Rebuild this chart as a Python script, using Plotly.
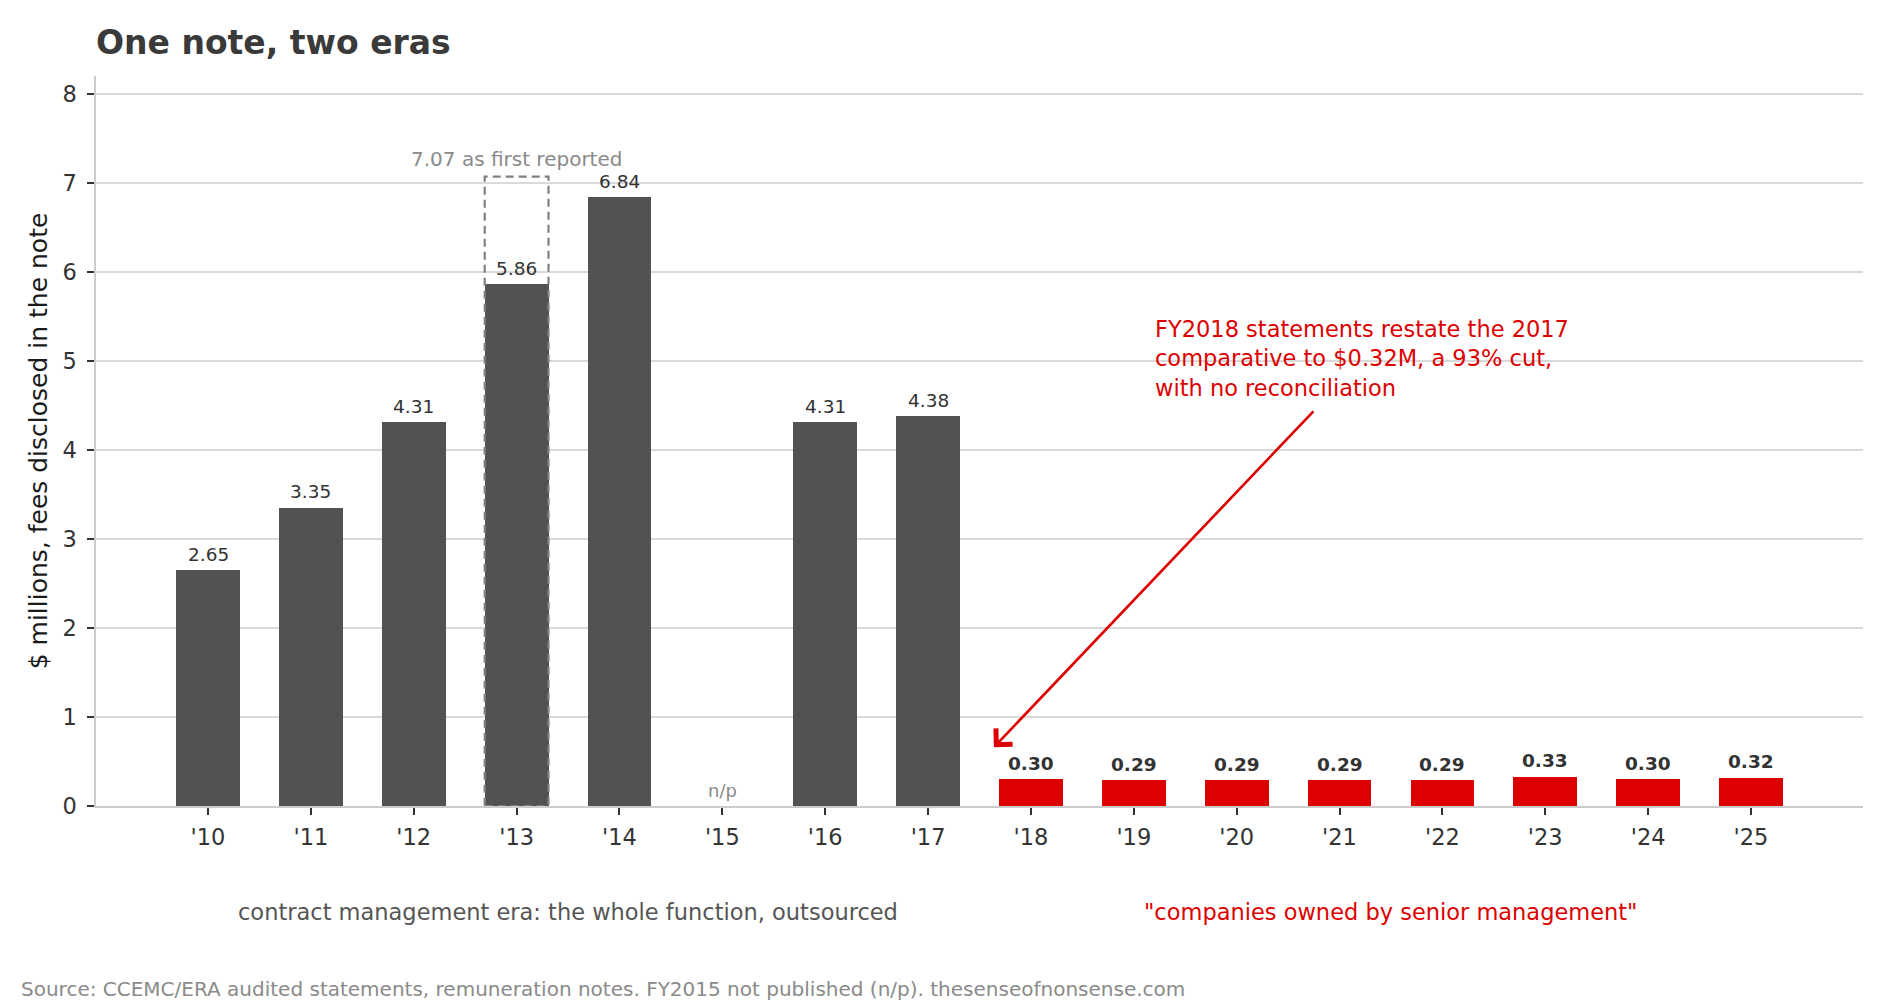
import plotly.graph_objects as go

# ---- data ----
years = ["'10", "'11", "'12", "'13", "'14", "'15", "'16", "'17",
         "'18", "'19", "'20", "'21", "'22", "'23", "'24", "'25"]
fees = [2.65, 3.35, 4.31, 5.86, 6.84, None, 4.31, 4.38,
        0.30, 0.29, 0.29, 0.29, 0.29, 0.33, 0.30, 0.32]
era = ["contract"] * 8 + ["owned"] * 8
restated_year = "'13"
first_reported = 7.07
missing_label = "n/p"

DARK = "#525252"
RED = "#dd0000"
FONT = "DejaVu Sans"
BAR_W = 0.62

colors = [DARK if e == "contract" else RED for e in era]

fig = go.Figure()
fig.add_trace(go.Bar(
    x=years, y=fees, width=BAR_W, marker=dict(color=colors, line=dict(width=0)),
    hoverinfo="skip", showlegend=False,
))

annotations = []
for i, (yr, v, e) in enumerate(zip(years, fees, era)):
    if v is None:
        annotations.append(dict(x=yr, y=0, xref="x", yref="y", text=missing_label,
                                showarrow=False, yanchor="middle", yshift=16,
                                font=dict(family=FONT, size=18, color="#8a8a8a")))
        continue
    annotations.append(dict(
        x=yr, y=v, xref="x", yref="y", text=f"{v:.2f}", showarrow=False,
        yanchor="middle", yshift=16,
        font=dict(family=FONT, size=18.5, color="#333333",
                  weight="bold" if e == "owned" else "normal")))

# restated bar: dashed outline of first-reported value
ri = years.index(restated_year)
fig.add_shape(type="rect", xref="x", yref="y",
              x0=ri - BAR_W / 2, x1=ri + BAR_W / 2, y0=0, y1=first_reported,
              line=dict(color="#808080", width=2.2, dash="8px,5px"),
              fillcolor="rgba(0,0,0,0)", layer="above")
annotations.append(dict(x=restated_year, y=first_reported, xref="x", yref="y",
                        text=f"{first_reported:.2f} as first reported", showarrow=False,
                        yanchor="middle", yshift=18,
                        font=dict(family=FONT, size=20, color="#8a8a8a")))

# red callout
annotations.append(dict(
    x=9.19, y=5.03, xref="x", yref="y", xanchor="left", yanchor="middle", align="left",
    text="FY2018 statements restate the 2017<br>comparative to $0.32M, a 93% cut,<br>with no reconciliation",
    showarrow=False, font=dict(family=FONT, size=22.5, color=RED)))
annotations.append(dict(
    x=7.64, y=0.66, ax=10.76, ay=4.45, xref="x", yref="y", axref="x", ayref="y",
    text="", showarrow=True, arrowhead=4, arrowsize=1.7, arrowwidth=2.6, arrowcolor=RED))

# era labels
annotations.append(dict(x=3.5, y=-0.145, xref="x", yref="paper",
                        text="contract management era: the whole function, outsourced",
                        showarrow=False, yanchor="middle",
                        font=dict(family=FONT, size=22.5, color="#555555")))
annotations.append(dict(x=11.5, y=-0.145, xref="x", yref="paper",
                        text="\"companies owned by senior management\"",
                        showarrow=False, yanchor="middle",
                        font=dict(family=FONT, size=22.5, color=RED)))

# source
annotations.append(dict(x=-0.0436, y=-0.2505, xref="paper", yref="paper",
                        text="Source: CCEMC/ERA audited statements, remuneration notes. "
                             "FY2015 not published (n/p). thesenseofnonsense.com",
                        showarrow=False, xanchor="left", yanchor="middle",
                        font=dict(family=FONT, size=20, color="#8a8a8a")))

fig.update_layout(
    width=1890, height=1007,
    margin=dict(l=96, r=27, t=76, b=201),
    paper_bgcolor="white", plot_bgcolor="white",
    font=dict(family=FONT, color="#333333"),
    title=dict(text="One note, two eras", x=96 / 1890, xanchor="left", xref="container",
               y=1 - 42 / 1007, yanchor="middle",
               font=dict(family=FONT, size=33, color="#3a3a3a", weight="bold")),
    annotations=annotations,
    bargap=0,
)
fig.update_xaxes(
    type="category", range=[-1.089, 16.089],
    showgrid=False, showline=True, linecolor="#cccccc", linewidth=2,
    ticks="outside", ticklen=7, tickwidth=1.5, tickcolor="#333333",
    ticklabelstandoff=3,
    tickfont=dict(family=FONT, size=22.5, color="#333333"),
    zeroline=False,
)
fig.update_yaxes(
    range=[0, 8.2], dtick=1, tick0=0,
    showgrid=True, gridcolor="#d9d9d9", gridwidth=1.5,
    showline=True, linecolor="#cccccc", linewidth=1.5,
    ticks="outside", ticklen=7, tickwidth=1.5, tickcolor="#333333",
    ticklabelstandoff=6,
    tickfont=dict(family=FONT, size=22.5, color="#333333"),
    zeroline=False,
    title=dict(text="$ millions, fees disclosed in the note", standoff=8,
               font=dict(family=FONT, size=25, color="#1a1a1a")),
)

fig.write_html("out.html", config={"displayModeBar": False},
               post_script="document.body.style.margin='0';")
